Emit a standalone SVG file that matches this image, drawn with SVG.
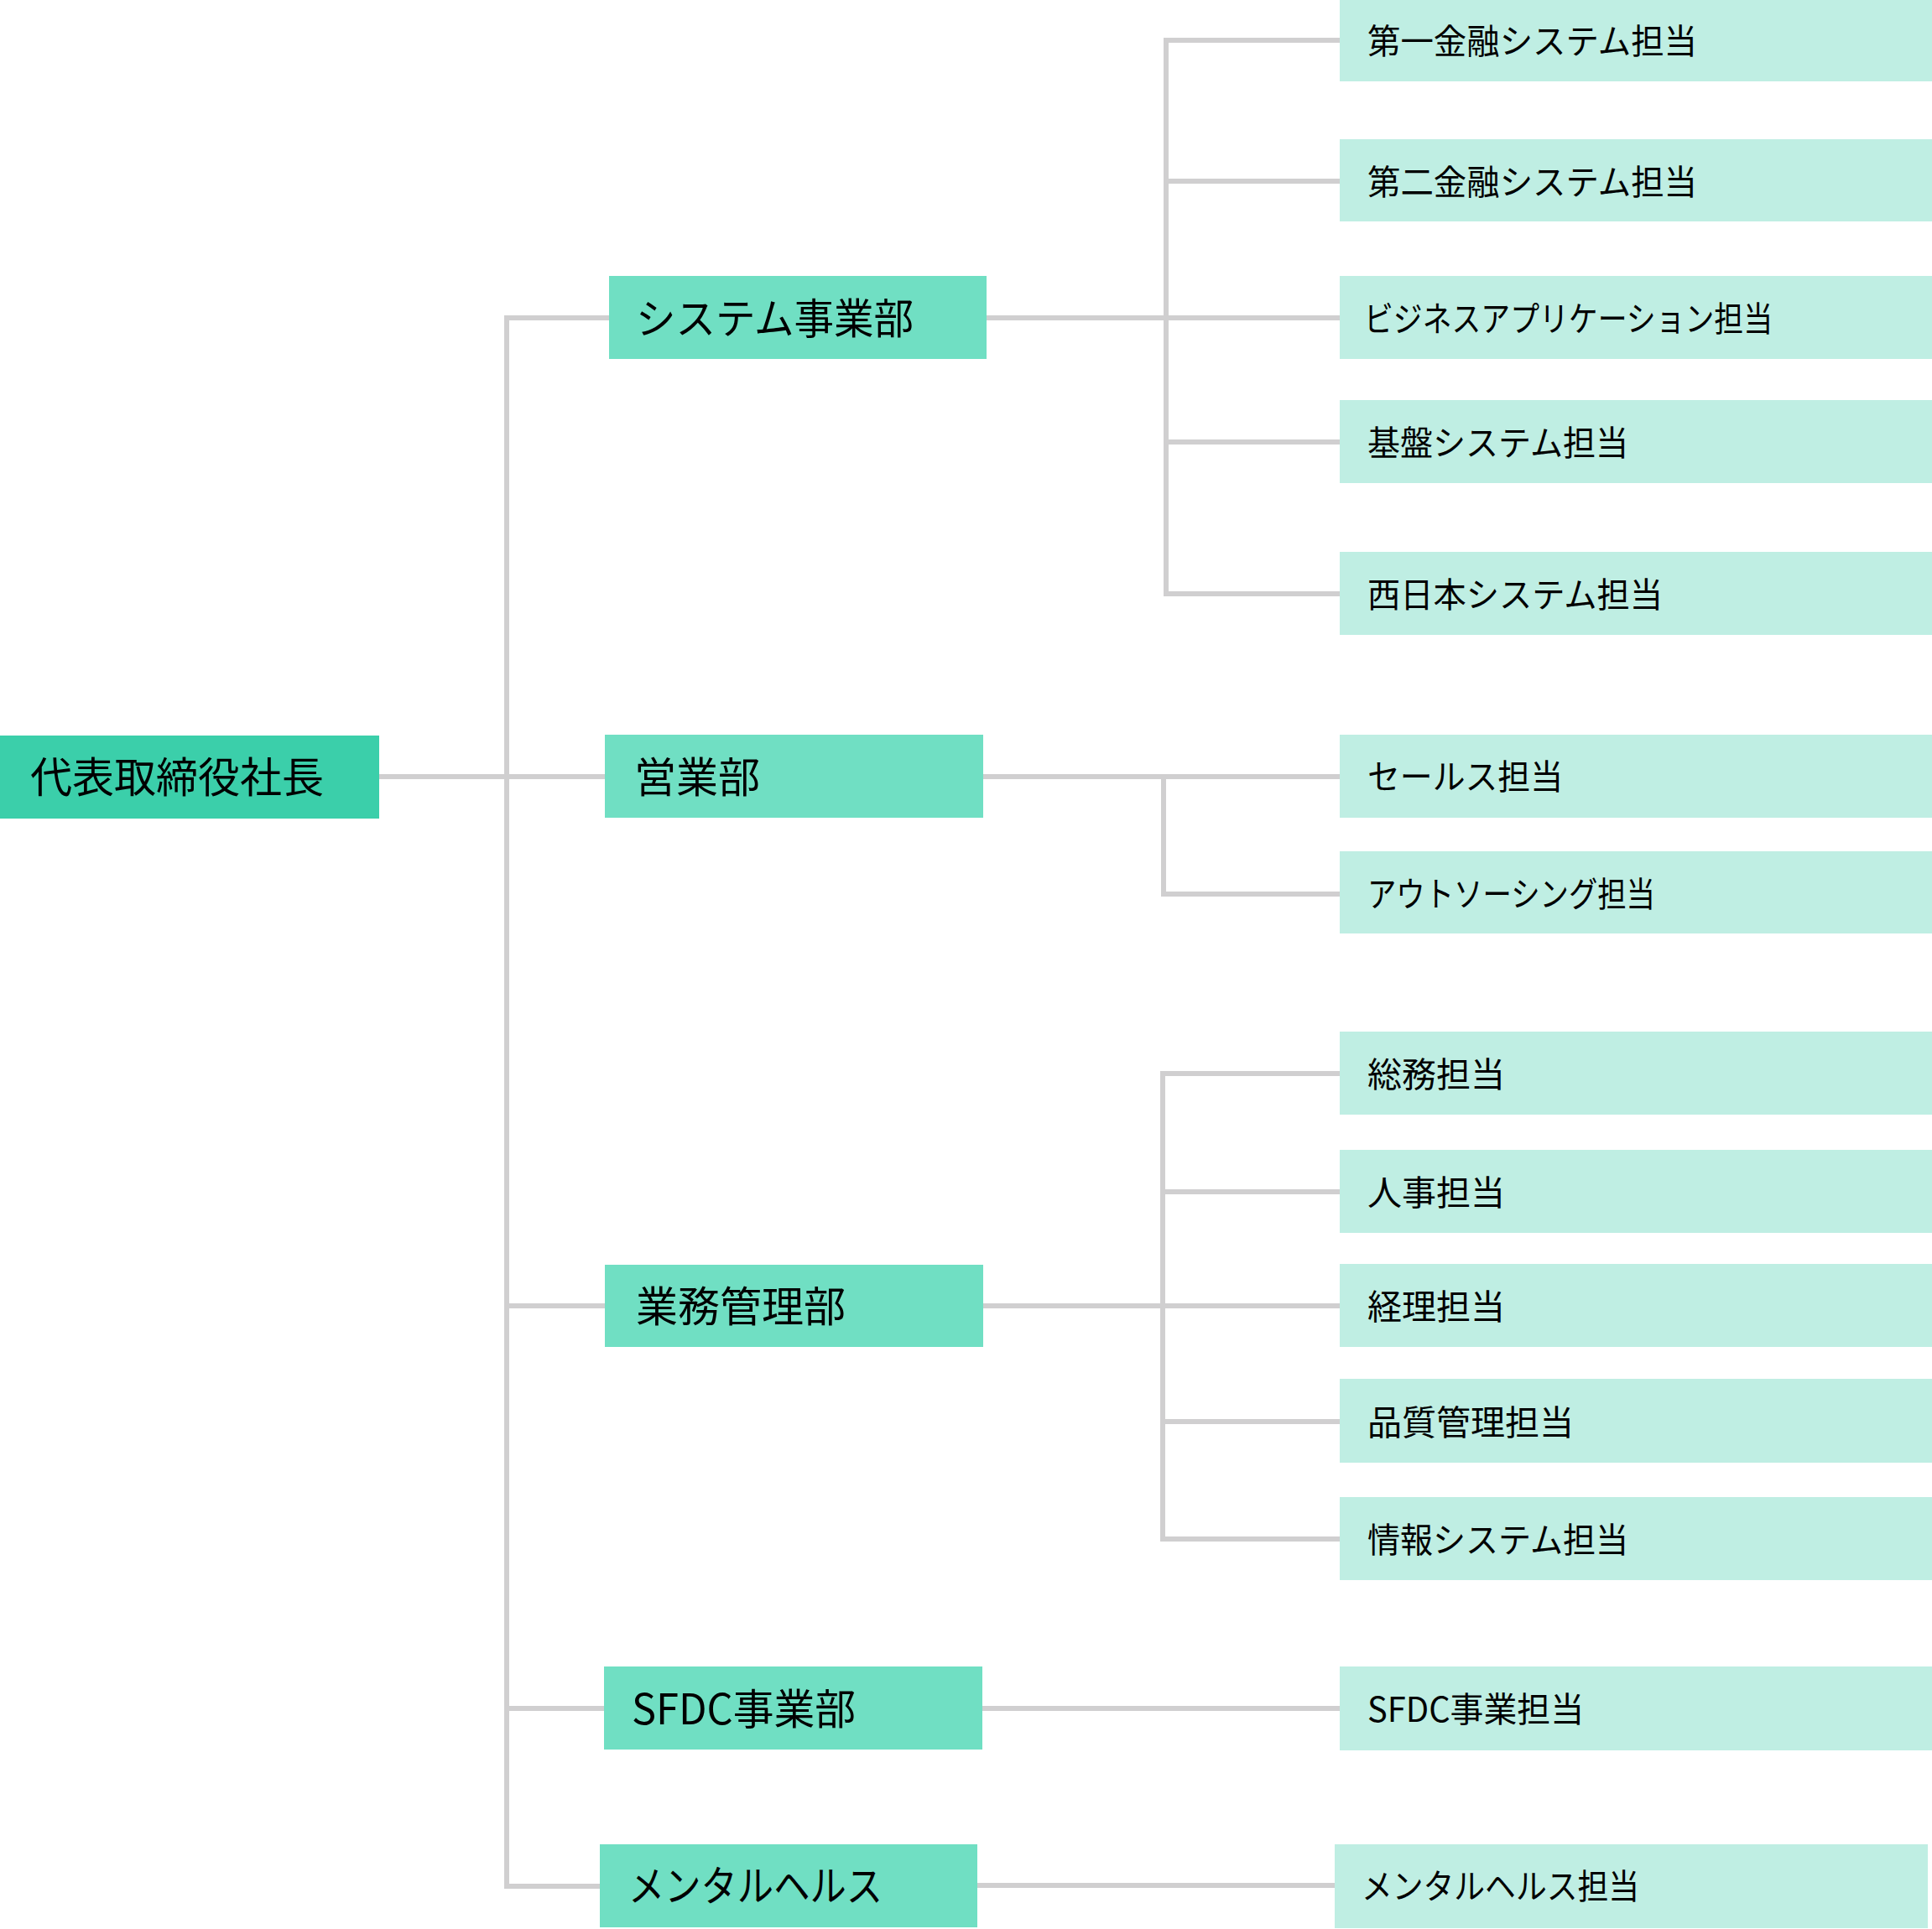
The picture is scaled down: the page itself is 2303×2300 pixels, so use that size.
<svg xmlns="http://www.w3.org/2000/svg" width="2303" height="2300" viewBox="0 0 2303 2300">
<style>
.root{fill:#3bcfaa}
.l2{fill:#70dfc3}
.l3{fill:#bfeee3}
text{font-family:"Noto Sans CJK JP","Noto Sans",sans-serif;fill:#000}
.t1{font-size:50px}
.t2{font-size:50px}
.t3{font-size:41px}
.c{fill:none;stroke:#d0cfd0;stroke-width:6;stroke-linejoin:miter}
</style>
<rect width="2303" height="2300" fill="#ffffff"/>
<g id="connectors">
<path class="c" d="M452 926 H721"/>
<path class="c" d="M726 379 H604 V2249 H715"/>
<path class="c" d="M604 1557 H721"/>
<path class="c" d="M604 2037 H720"/>
<path class="c" d="M1176 379 H1597"/>
<path class="c" d="M1597 48 H1390 V708 H1597"/>
<path class="c" d="M1390 216 H1597"/>
<path class="c" d="M1390 527 H1597"/>
<path class="c" d="M1172 926 H1597"/>
<path class="c" d="M1387 926 V1066 H1597"/>
<path class="c" d="M1172 1557 H1597"/>
<path class="c" d="M1597 1280 H1386 V1835 H1597"/>
<path class="c" d="M1386 1421 H1597"/>
<path class="c" d="M1386 1695 H1597"/>
<path class="c" d="M1171 2037 H1597"/>
<path class="c" d="M1165 2248 H1591"/>
</g>
<g id="n-president"><rect class="root" x="0" y="877" width="452" height="99"/><text class="t1" x="36" y="945" textLength="350" lengthAdjust="spacingAndGlyphs">代表取締役社長</text></g>
<g id="n-system"><rect class="l2" x="726" y="329" width="450" height="99"/><text class="t2" x="758" y="398" textLength="331" lengthAdjust="spacingAndGlyphs">システム事業部</text></g>
<g id="n-sales"><rect class="l2" x="721" y="876" width="451" height="99"/><text class="t2" x="756" y="945">営業部</text></g>
<g id="n-admin"><rect class="l2" x="721" y="1508" width="451" height="98"/><text class="t2" x="758" y="1576">業務管理部</text></g>
<g id="n-sfdc"><rect class="l2" x="720" y="1987" width="451" height="99"/><text class="t2" x="753" y="2056" textLength="267" lengthAdjust="spacingAndGlyphs">SFDC事業部</text></g>
<g id="n-mental"><rect class="l2" x="715" y="2199" width="450" height="99"/><text class="t2" x="749" y="2267" textLength="303" lengthAdjust="spacingAndGlyphs">メンタルヘルス</text></g>
<g id="n-fin1"><rect class="l3" x="1597" y="0" width="706" height="97"/><text class="t3" x="1630" y="64" textLength="393" lengthAdjust="spacingAndGlyphs">第一金融システム担当</text></g>
<g id="n-fin2"><rect class="l3" x="1597" y="166" width="706" height="98"/><text class="t3" x="1630" y="232" textLength="393" lengthAdjust="spacingAndGlyphs">第二金融システム担当</text></g>
<g id="n-bizapp"><rect class="l3" x="1597" y="329" width="706" height="99"/><text class="t3" x="1626" y="395" textLength="487" lengthAdjust="spacingAndGlyphs">ビジネスアプリケーション担当</text></g>
<g id="n-infra"><rect class="l3" x="1597" y="477" width="706" height="99"/><text class="t3" x="1630" y="543" textLength="311" lengthAdjust="spacingAndGlyphs">基盤システム担当</text></g>
<g id="n-west"><rect class="l3" x="1597" y="658" width="706" height="99"/><text class="t3" x="1630" y="724" textLength="352" lengthAdjust="spacingAndGlyphs">西日本システム担当</text></g>
<g id="n-salesrep"><rect class="l3" x="1597" y="876" width="706" height="99"/><text class="t3" x="1630" y="941" textLength="233" lengthAdjust="spacingAndGlyphs">セールス担当</text></g>
<g id="n-outsourcing"><rect class="l3" x="1597" y="1015" width="706" height="98"/><text class="t3" x="1630" y="1081" textLength="343" lengthAdjust="spacingAndGlyphs">アウトソーシング担当</text></g>
<g id="n-general"><rect class="l3" x="1597" y="1230" width="706" height="99"/><text class="t3" x="1630" y="1296">総務担当</text></g>
<g id="n-hr"><rect class="l3" x="1597" y="1371" width="706" height="99"/><text class="t3" x="1630" y="1437">人事担当</text></g>
<g id="n-acct"><rect class="l3" x="1597" y="1507" width="706" height="99"/><text class="t3" x="1630" y="1573">経理担当</text></g>
<g id="n-qa"><rect class="l3" x="1597" y="1644" width="706" height="100"/><text class="t3" x="1630" y="1711">品質管理担当</text></g>
<g id="n-is"><rect class="l3" x="1597" y="1785" width="706" height="99"/><text class="t3" x="1630" y="1851" textLength="311" lengthAdjust="spacingAndGlyphs">情報システム担当</text></g>
<g id="n-sfdcrep"><rect class="l3" x="1597" y="1987" width="706" height="100"/><text class="t3" x="1630" y="2053" textLength="258" lengthAdjust="spacingAndGlyphs">SFDC事業担当</text></g>
<g id="n-mentalrep"><rect class="l3" x="1591" y="2199" width="707" height="100"/><text class="t3" x="1623" y="2264" textLength="331" lengthAdjust="spacingAndGlyphs">メンタルヘルス担当</text></g>
</svg>
